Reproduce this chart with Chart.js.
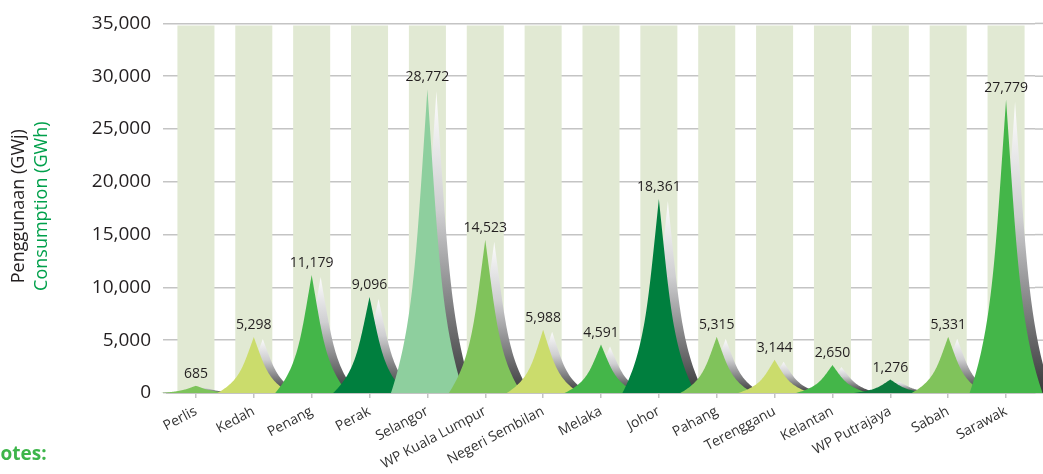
<!DOCTYPE html>
<html lang="en">
<head>
<meta charset="UTF-8">
<title>Penggunaan Elektrik Mengikut Negeri</title>
<script src="https://cdn.jsdelivr.net/npm/chart.js@4.4.1/dist/chart.umd.min.js"></script>
<style>
  html, body { margin: 0; padding: 0; background: #fff; }
  #wrap { position: relative; width: 1043px; height: 474px; }
</style>
</head>
<body>
<div id="wrap"><canvas id="stateChart"></canvas></div>

<script>
// data
const states = ['Perlis', 'Kedah', 'Penang', 'Perak', 'Selangor', 'WP Kuala Lumpur', 'Negeri Sembilan',
  'Melaka', 'Johor', 'Pahang', 'Terengganu', 'Kelantan', 'WP Putrajaya', 'Sabah', 'Sarawak'];
const consumption = [685, 5298, 11179, 9096, 28772, 14523, 5988, 4591, 18361, 5315, 3144, 2650, 1276, 5331, 27779];
const backdrop = [34800, 34800, 34800, 34800, 34800, 34800, 34800, 34800, 34800, 34800, 34800, 34800, 34800, 34800, 34800];
const yTicks = [0, 5000, 10000, 15000, 20000, 25000, 30000, 35000];

// spike fills, one per state
const spikeColors = ['#7dc35b', '#cbdc6c', '#44b649', '#007f3e', '#8ecf9e', '#80c35b', '#cbdc6c',
  '#44b649', '#007f3e', '#80c35b', '#cbdc6c', '#44b649', '#0c7b3d', '#80c35b', '#44b649'];

const txt = '#231f20';
const gridGrey = '#c4c4c4';
Chart.defaults.font.family = '"Open Sans", "Noto Sans", sans-serif';

// half-width of a spike at fraction s measured down from the tip (0 = tip, 1 = base)
function spread(s) {
  return 0.55 * s + 0.45 * Math.pow(s, 5);
}

function spikePath(ctx, cx, top, base, half) {
  const h = base - top;
  const n = 60;
  ctx.beginPath();
  ctx.moveTo(cx - half, base);
  for (let k = n; k >= 0; k--) {
    const s = k / n;
    ctx.lineTo(cx - half * spread(s), top + h * s);
  }
  for (let k = 1; k <= n; k++) {
    const s = k / n;
    ctx.lineTo(cx + half * spread(s), top + h * s);
  }
  ctx.closePath();
}

const spikes = {
  id: 'spikes',
  afterDatasetsDraw(chart) {
    const { ctx, chartArea, scales: { x, y } } = chart;
    const base = y.getPixelForValue(0);
    const half = (chartArea.right - chartArea.left) / states.length * 0.63;

    ctx.save();
    // gridlines run on past the plot to the page edge
    ctx.strokeStyle = gridGrey;
    ctx.lineWidth = 1.5;
    yTicks.forEach(v => {
      const py = y.getPixelForValue(v);
      ctx.beginPath();
      ctx.moveTo(chartArea.right, py);
      ctx.lineTo(chart.width, py);
      ctx.stroke();
    });

    consumption.forEach((v, i) => {
      const cx = x.getPixelForValue(i);
      const top = y.getPixelForValue(v);
      const g = ctx.createLinearGradient(0, top, 0, base);
      g.addColorStop(0, '#ffffff');
      g.addColorStop(0.4, '#cfcfd1');
      g.addColorStop(1, '#38383a');
      spikePath(ctx, cx + 9, top + 2, base, half);
      ctx.fillStyle = g;
      ctx.fill();
      spikePath(ctx, cx, top, base, half);
      ctx.fillStyle = spikeColors[i];
      ctx.fill();
    });

    ctx.fillStyle = txt;
    ctx.font = '14px "Open Sans", sans-serif';
    ctx.textAlign = 'center';
    ctx.textBaseline = 'bottom';
    consumption.forEach((v, i) => {
      ctx.fillText(v.toLocaleString('en-US'), x.getPixelForValue(i), y.getPixelForValue(v) - 5);
    });
    ctx.restore();
  },
  afterDraw(chart) {
    const { ctx, chartArea } = chart;
    const mid = (chartArea.top + chartArea.bottom) / 2;
    ctx.save();
    ctx.translate(0, mid - 2);
    ctx.rotate(-Math.PI / 2);
    ctx.textAlign = 'center';
    ctx.textBaseline = 'middle';
    ctx.font = '18px "Open Sans", sans-serif';
    ctx.fillStyle = txt;
    ctx.fillText('Penggunaan (GWj)', 0, 19);
    ctx.fillStyle = '#00a04b';
    ctx.fillText('Consumption (GWh)', 0, 42);
    ctx.restore();

    ctx.save();
    ctx.font = 'bold 19px "Open Sans", sans-serif';
    ctx.fillStyle = '#3db54a';
    ctx.textBaseline = 'alphabetic';
    ctx.fillText('Notes:', -15, 460);
    ctx.restore();
  }
};

new Chart('stateChart', {
  type: 'bar',
  data: {
    labels: states,
    datasets: [{
      label: 'Consumption (GWh)',
      data: consumption,
      backgroundColor: 'rgba(0,0,0,0)',
      grouped: false,
      barPercentage: 0.64,
      categoryPercentage: 1
    }, {
      label: 'backdrop',
      data: backdrop,
      backgroundColor: '#e1e9d3',
      grouped: false,
      barPercentage: 0.64,
      categoryPercentage: 1
    }]
  },
  options: {
    responsive: true,
    maintainAspectRatio: false,
    animation: false,
    layout: { padding: { top: 18, right: 8, left: 0, bottom: 0 } },
    plugins: { legend: { display: false }, tooltip: { enabled: false } },
    scales: {
      x: {
        offset: true,
        grid: { drawOnChartArea: false, drawTicks: true, tickLength: 5, offset: false, color: gridGrey, lineWidth: 1.5 },
        border: { display: true, color: gridGrey, width: 2 },
        ticks: { color: '#333', font: { size: 14 }, minRotation: 28, maxRotation: 28, autoSkip: false, padding: 5 },
        afterFit(scale) { scale.height = 81; }
      },
      y: {
        min: 0,
        max: 35000,
        afterBuildTicks(scale) { scale.ticks = yTicks.map(v => ({ value: v })); },
        grid: { color: gridGrey, lineWidth: 1.5, tickLength: 4 },
        border: { display: false },
        ticks: {
          color: txt,
          padding: 12,
          font: { size: 19 },
          callback: v => v.toLocaleString('en-US')
        },
        afterFit(scale) { scale.width = 167; }
      }
    }
  },
  plugins: [spikes]
});
</script>
</body>
</html>
